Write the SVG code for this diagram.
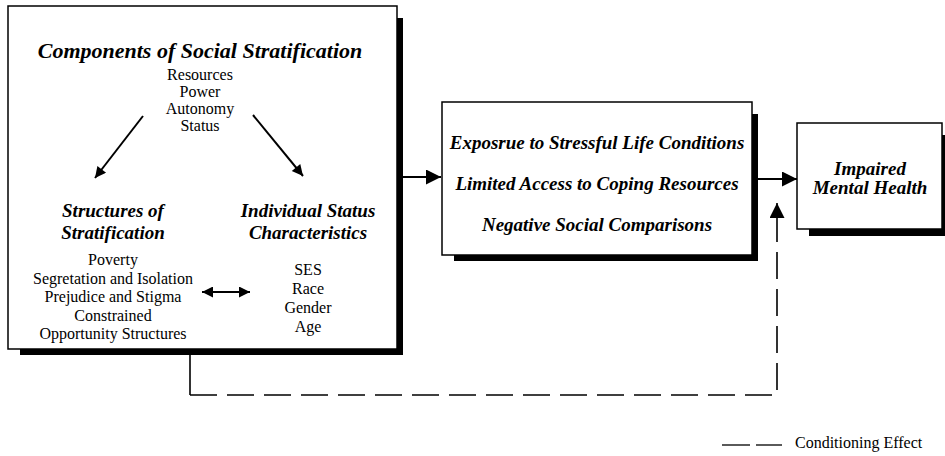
<svg xmlns="http://www.w3.org/2000/svg" width="945" height="456" viewBox="0 0 945 456">
  <style>
    text { font-family: "Liberation Serif", Tinos, "Times New Roman", "Nimbus Roman", "DejaVu Serif", serif; fill: #000; }
    .box { fill: #fff; stroke: #000; stroke-width: 1.5; }
    .shadow { fill: #000; }
    .head { font-weight: bold; font-style: italic; text-anchor: middle; }
    .body { font-size: 16px; text-anchor: middle; }
    .key { font-size: 16px; text-anchor: start; }
    .line { stroke: #000; stroke-width: 2; fill: none; }
    .dash { stroke: #000; stroke-width: 1.6; fill: none; stroke-dasharray: 27 10; }
  </style>
  <defs>
    <marker id="arrowBig" viewBox="0 0 10 10" refX="10" refY="5" markerWidth="19" markerHeight="15" markerUnits="userSpaceOnUse" orient="auto-start-reverse">
      <path d="M0,0 L10,5 L0,10 z" fill="#000"/>
    </marker>
    <marker id="arrowSmall" viewBox="0 0 10 10" refX="10" refY="5" markerWidth="15" markerHeight="11" markerUnits="userSpaceOnUse" orient="auto-start-reverse">
      <path d="M0,0 L10,5 L0,10 z" fill="#000"/>
    </marker>
  </defs>
  <rect width="945" height="456" fill="#fff"/>

  <!-- Components of Social Stratification -->
  <g id="stratification">
    <rect class="shadow" x="20" y="18" width="383" height="337"/>
    <rect class="box" x="8" y="6" width="389" height="343"/>
    <text class="head" x="200" y="58" font-size="22">Components of Social Stratification</text>
    <text class="body" x="200" y="80">Resources</text>
    <text class="body" x="200" y="97">Power</text>
    <text class="body" x="200" y="114">Autonomy</text>
    <text class="body" x="200" y="131">Status</text>
    <text class="head" x="113" y="217" font-size="19">Structures of</text>
    <text class="head" x="113" y="239" font-size="19">Stratification</text>
    <text class="body" x="113" y="265">Poverty</text>
    <text class="body" x="113" y="284">Segretation and Isolation</text>
    <text class="body" x="113" y="302">Prejudice and Stigma</text>
    <text class="body" x="113" y="321">Constrained</text>
    <text class="body" x="113" y="339">Opportunity Structures</text>
    <text class="head" x="308" y="217" font-size="19">Individual Status</text>
    <text class="head" x="308" y="239" font-size="19">Characteristics</text>
    <text class="body" x="308" y="275">SES</text>
    <text class="body" x="308" y="294">Race</text>
    <text class="body" x="308" y="313">Gender</text>
    <text class="body" x="308" y="332">Age</text>
  </g>

  <!-- Mediating processes -->
  <g id="processes">
    <rect class="shadow" x="454" y="114" width="304" height="147"/>
    <rect class="box" x="442" y="102" width="310" height="153"/>
    <text class="head" x="597" y="149" font-size="19">Exposrue to Stressful Life Conditions</text>
    <text class="head" x="597" y="190" font-size="19">Limited Access to Coping Resources</text>
    <text class="head" x="597" y="231" font-size="19">Negative Social Comparisons</text>
  </g>

  <!-- Outcome -->
  <g id="outcome">
    <rect class="shadow" x="809" y="135" width="145" height="101"/>
    <rect class="box" x="797" y="123" width="145" height="106"/>
    <text class="head" x="870" y="175" font-size="19">Impaired</text>
    <text class="head" x="870" y="194" font-size="19">Mental Health</text>
  </g>

  <!-- Legend -->
  <g id="legend">
    <line x1="722" y1="445" x2="750" y2="445" stroke="#000" stroke-width="1.3"/>
    <line x1="756" y1="445" x2="782" y2="445" stroke="#000" stroke-width="1.3"/>
    <text class="key" x="795" y="448">Conditioning Effect</text>
  </g>

  <g id="connectors">
    <!-- within the stratification box -->
    <line class="line" x1="143" y1="116" x2="95" y2="178" marker-end="url(#arrowSmall)"/>
    <line class="line" x1="253" y1="115" x2="303" y2="176" marker-end="url(#arrowSmall)"/>
    <line class="line" x1="202" y1="292" x2="250" y2="292" marker-start="url(#arrowSmall)" marker-end="url(#arrowSmall)"/>
    <!-- main causal chain -->
    <line class="line" x1="403" y1="177" x2="441" y2="177" marker-end="url(#arrowBig)"/>
    <line class="line" x1="758" y1="179" x2="797" y2="179" marker-end="url(#arrowBig)"/>
    <!-- conditioning effect -->
    <line x1="190" y1="355" x2="190" y2="395" stroke="#000" stroke-width="1.6"/>
    <path class="dash" d="M190,395 H777 V203" marker-end="url(#arrowBig)"/>
  </g>
</svg>
